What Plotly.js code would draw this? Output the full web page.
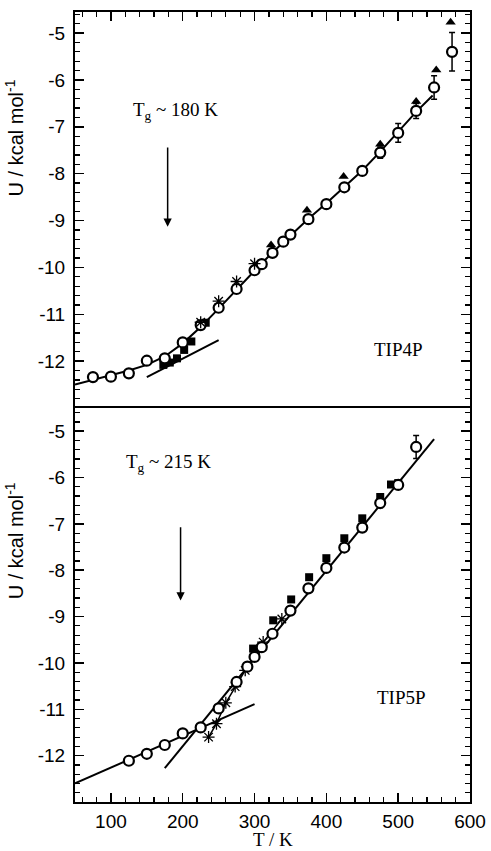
<!DOCTYPE html>
<html>
<head>
<meta charset="utf-8">
<script src="https://cdn.plot.ly/plotly-3.0.1.min.js"></script>
<style>html,body{margin:0;padding:0;background:#fff;}#chart{width:491px;height:851px;}</style>
</head>
<body>
<div id="chart"></div>
<script>
// ---------- TIP4P (top panel) ----------
const tip4pCircT = [75,100,125,150,175,200,225,250,275,300,310,325,340,350,375,400,425,450,475,500,525,550,575];
const tip4pCircU = [-12.34,-12.33,-12.26,-11.99,-11.94,-11.60,-11.23,-10.86,-10.46,-10.06,-9.93,-9.69,-9.45,-9.30,-8.97,-8.65,-8.29,-7.94,-7.55,-7.13,-6.66,-6.16,-5.40];
const tip4pCircErr = [0.04,0.04,0.04,0.04,0.04,0.04,0.04,0.04,0.04,0.04,0.04,0.04,0.04,0.04,0.08,0.08,0.08,0.08,0.12,0.2,0.16,0.25,0.41];
const tip4pSqT = [173,182,192,202,212,224,232,250,275,300];
const tip4pSqU = [-12.08,-12.03,-11.94,-11.76,-11.58,-11.23,-11.18,-10.85,-10.45,-10.05];
const tip4pStarT = [225,250,275,300];
const tip4pStarU = [-11.17,-10.72,-10.30,-9.92];
const tip4pTriT = [323,373,424,475,525,553,573];
const tip4pTriU = [-9.52,-8.78,-8.06,-7.37,-6.46,-5.79,-4.77];
const tip4pFitT = [50,75,100,125,150,175,200,225,250,275,300,325,350,375,400,425,450,475,500,525,548];
const tip4pFitU = [-12.50,-12.40,-12.30,-12.20,-12.08,-11.90,-11.62,-11.27,-10.88,-10.47,-10.07,-9.68,-9.31,-8.96,-8.63,-8.29,-7.93,-7.53,-7.10,-6.68,-6.33];
const tip4pTanT = [150,250];
const tip4pTanU = [-12.34,-11.55];

// ---------- TIP5P (bottom panel) ----------
const tip5pCircT = [125,150,175,200,225,250,275,290,300,310,325,350,375,400,425,450,475,500,525];
const tip5pCircU = [-12.11,-11.96,-11.77,-11.52,-11.39,-10.98,-10.41,-10.08,-9.87,-9.66,-9.37,-8.87,-8.39,-7.95,-7.51,-7.08,-6.55,-6.16,-5.34];
const tip5pCircErr = [0.04,0.04,0.04,0.04,0.04,0.04,0.04,0.04,0.04,0.04,0.04,0.04,0.04,0.06,0.06,0.08,0.1,0.08,0.25];
const tip5pSqT = [298,326,351,376,400,425,450,475,490,500];
const tip5pSqU = [-9.69,-9.08,-8.63,-8.15,-7.74,-7.31,-6.88,-6.42,-6.15,-6.12];
const tip5pStarT = [236,247,260,273,287,312,338];
const tip5pStarU = [-11.60,-11.31,-10.86,-10.51,-10.16,-9.55,-9.05];
const tip5pLowT = [50,300];
const tip5pLowU = [-12.60,-10.89];
const tip5pHighT = [175,550];
const tip5pHighU = [-12.27,-5.17];

const xTicks = [100,200,300,400,500,600];
const yTicks = [-12,-11,-10,-9,-8,-7,-6,-5];
const yTickText = ['-12','-11','-10','-9','-8','-7','-6','-5'];

const blk = '#000';
function lineTrace(x, y, xa, ya) {
  return {x, y, xaxis: xa, yaxis: ya, type: 'scatter', mode: 'lines',
    line: {color: blk, width: 2}, hoverinfo: 'skip', showlegend: false};
}
function markTrace(x, y, xa, ya, marker, err, mode) {
  const t = {x, y, xaxis: xa, yaxis: ya, type: 'scatter', mode: mode || 'markers',
    marker, line: {color: blk, width: 1.5}, showlegend: false};
  if (err) t.error_y = {type: 'data', array: err, visible: true, color: blk, thickness: 1.5, width: 3};
  return t;
}
const circM = {symbol: 'circle', size: 10, color: '#fff', line: {color: blk, width: 2.2}};
const sqM = {symbol: 'square', size: 8, color: blk, line: {color: blk, width: 0}};
const triM = {symbol: 'triangle-up', size: 9, color: blk, line: {color: blk, width: 0}};
const starM = {symbol: 'asterisk-open', size: 10, color: blk, line: {color: blk, width: 1.3}};

const data = [
  lineTrace(tip4pFitT, tip4pFitU, 'x2', 'y2'),
  lineTrace(tip4pTanT, tip4pTanU, 'x2', 'y2'),
  markTrace(tip4pSqT, tip4pSqU, 'x2', 'y2', sqM),
  markTrace(tip4pTriT, tip4pTriU, 'x2', 'y2', triM),
  markTrace(tip4pCircT, tip4pCircU, 'x2', 'y2', circM, tip4pCircErr),
  markTrace(tip4pStarT, tip4pStarU, 'x2', 'y2', starM),

  lineTrace(tip5pLowT, tip5pLowU, 'x', 'y'),
  lineTrace(tip5pHighT, tip5pHighU, 'x', 'y'),
  markTrace(tip5pSqT, tip5pSqU, 'x', 'y', sqM),
  markTrace(tip5pStarT, tip5pStarU, 'x', 'y', starM, null, 'lines+markers'),
  markTrace(tip5pCircT, tip5pCircU, 'x', 'y', circM, tip5pCircErr)
];

const tickFont = {family: 'Liberation Sans, Arial, sans-serif', size: 19, color: blk};
const serif = 'Liberation Serif, Times New Roman, serif';
const split = 0.4987;

function yAx(domain, range, anchor) {
  return {domain, range, anchor, tickvals: yTicks, ticktext: yTickText,
    ticks: 'inside', ticklen: 9, tickwidth: 1.5, tickcolor: blk,
    minor: {dtick: 0.2, ticks: 'inside', ticklen: 5, tickwidth: 1.2, tickcolor: blk},
    showline: true, linewidth: 2, linecolor: blk, mirror: 'ticks',
    showgrid: false, zeroline: false, tickfont: tickFont, ticklabelstandoff: 4};
}

const layout = {
  width: 491, height: 851,
  margin: {l: 75, r: 21, t: 12, b: 49},
  paper_bgcolor: '#fff', plot_bgcolor: '#fff',
  showlegend: false,
  xaxis: {domain: [0, 1], range: [50, 600], anchor: 'y', tickvals: xTicks,
    ticks: 'inside', ticklen: 9, tickwidth: 1.5, tickcolor: blk,
    minor: {dtick: 20, ticks: 'inside', ticklen: 5, tickwidth: 1.2, tickcolor: blk},
    showline: true, linewidth: 2, linecolor: blk, mirror: true,
    showgrid: false, zeroline: false, tickfont: tickFont, ticklabelstandoff: 1},
  xaxis2: {domain: [0, 1], range: [50, 600], anchor: 'y2', matches: 'x', side: 'top',
    tickvals: xTicks, showticklabels: false,
    ticks: 'inside', ticklen: 9, tickwidth: 1.5, tickcolor: blk,
    minor: {dtick: 20, ticks: 'inside', ticklen: 5, tickwidth: 1.2, tickcolor: blk},
    showline: true, linewidth: 2, linecolor: blk, mirror: false,
    showgrid: false, zeroline: false},
  yaxis: yAx([0, split], [-13, -4.5], 'x'),
  yaxis2: yAx([split, 1], [-13, -4.55], 'x2'),
  annotations: [
    {text: 'T<sub>g</sub> ~ 180 K', x: 190, y: -6.66, xref: 'x2', yref: 'y2', showarrow: false,
      font: {family: serif, size: 19, color: blk}},
    {text: '', x: 179, y: -9.13, ax: 179, ay: -7.41, xref: 'x2', yref: 'y2', axref: 'x2', ayref: 'y2',
      showarrow: true, arrowhead: 2, arrowsize: 1.1, arrowwidth: 1.5, arrowcolor: blk},
    {text: 'TIP4P', x: 500, y: -11.76, xref: 'x2', yref: 'y2', showarrow: false,
      font: {family: serif, size: 19, color: blk}},

    {text: 'T<sub>g</sub> ~ 215 K', x: 180, y: -5.68, xref: 'x', yref: 'y', showarrow: false,
      font: {family: serif, size: 19, color: blk}},
    {text: '', x: 197, y: -8.65, ax: 197, ay: -7.04, xref: 'x', yref: 'y', axref: 'x', ayref: 'y',
      showarrow: true, arrowhead: 2, arrowsize: 1.1, arrowwidth: 1.5, arrowcolor: blk},
    {text: 'TIP5P', x: 504, y: -10.74, xref: 'x', yref: 'y', showarrow: false,
      font: {family: serif, size: 19, color: blk}},

    {text: 'U / kcal mol<sup>-1</sup>', xref: 'paper', yref: 'paper', x: 0, y: 0.84,
      xshift: -61, textangle: -90, showarrow: false, xanchor: 'center', yanchor: 'middle',
      font: {family: 'Liberation Sans, Arial, sans-serif', size: 20, color: blk}},
    {text: 'U / kcal mol<sup>-1</sup>', xref: 'paper', yref: 'paper', x: 0, y: 0.33,
      xshift: -61, textangle: -90, showarrow: false, xanchor: 'center', yanchor: 'middle',
      font: {family: 'Liberation Sans, Arial, sans-serif', size: 20, color: blk}},
    {text: 'T / K', xref: 'paper', yref: 'paper', x: 0.5, y: 0, yshift: -37,
      showarrow: false, xanchor: 'center', yanchor: 'middle',
      font: {family: serif, size: 19, color: blk}}
  ]
};

Plotly.newPlot('chart', data, layout, {displayModeBar: false, staticPlot: true});
</script>
</body>
</html>
